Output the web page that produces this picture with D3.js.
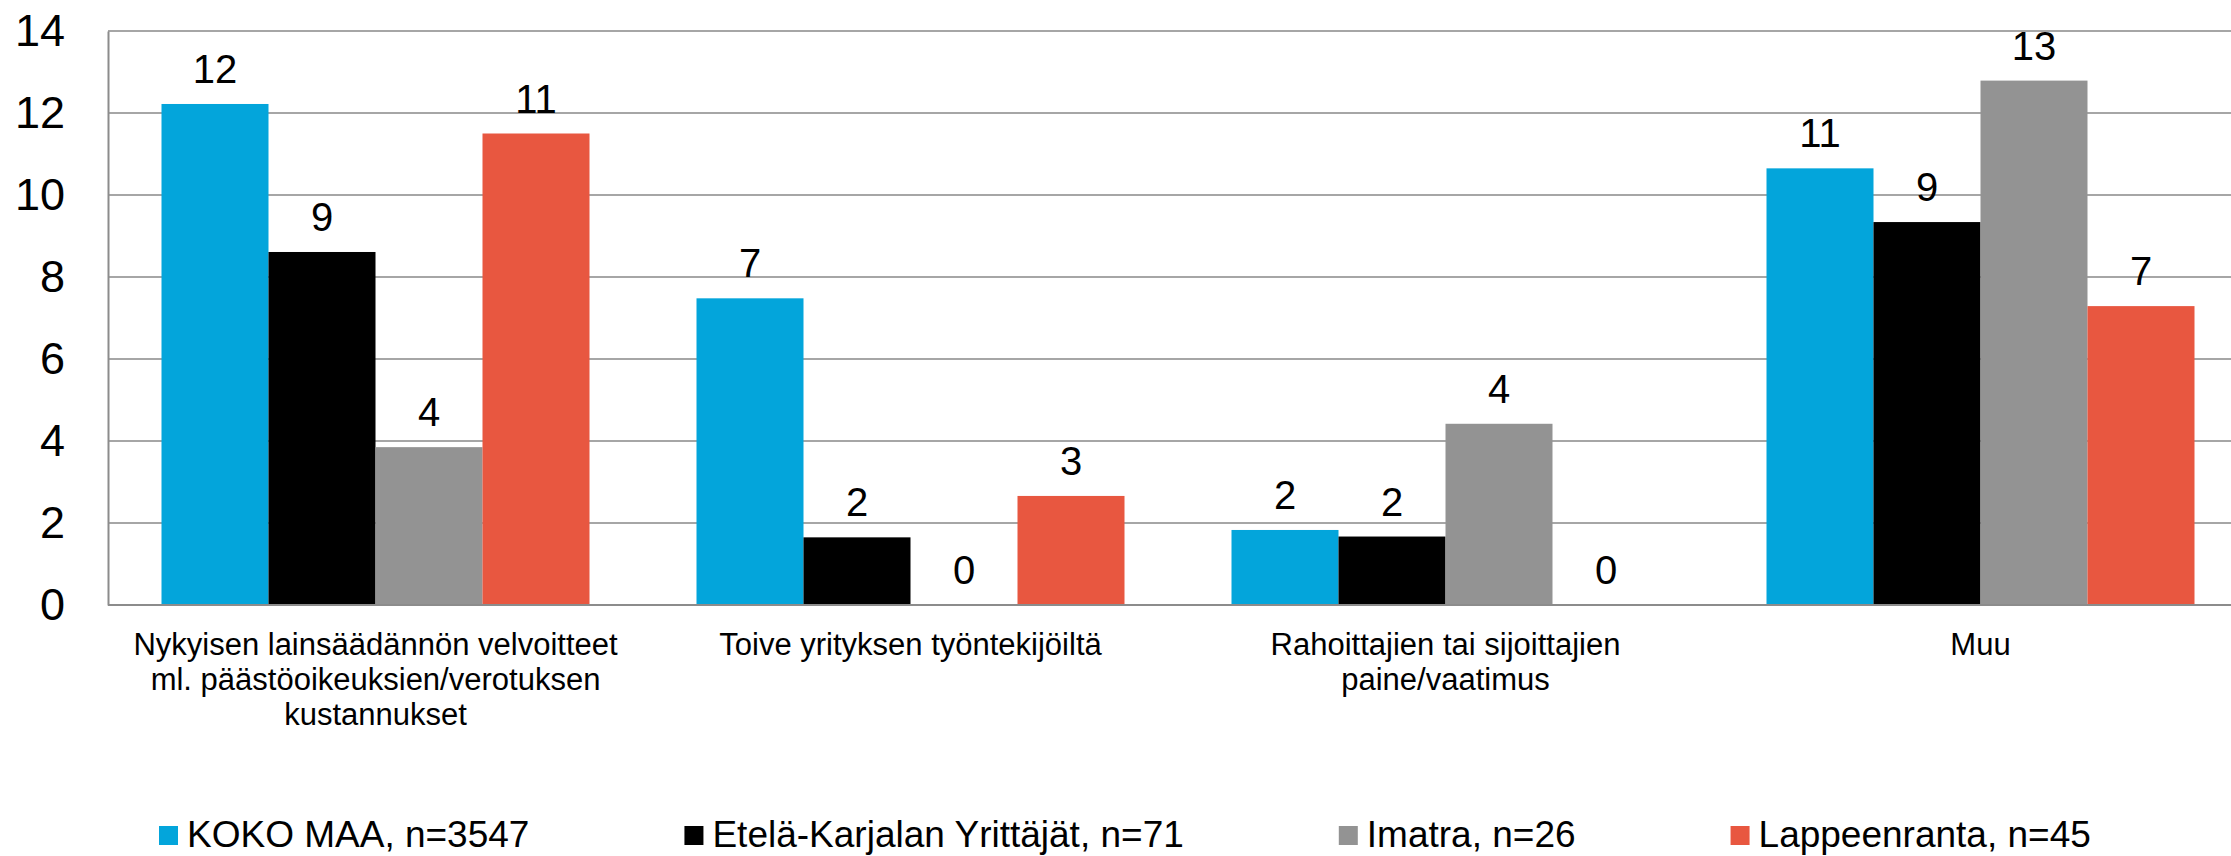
<!DOCTYPE html>
<html>
<head>
<meta charset="utf-8">
<script src="https://cdn.jsdelivr.net/npm/d3@7"></script>
<style>
  body { margin: 0; background: #fff; }
  svg { display: block; font-family: "Liberation Sans", Arial, sans-serif; }
</style>
</head>
<body>
<div id="vis"></div>
<script>
// ---------- DATA ----------
const categories = [
  ["Nykyisen lainsäädännön velvoitteet", "ml. päästöoikeuksien/verotuksen", "kustannukset"],
  ["Toive yrityksen työntekijöiltä"],
  ["Rahoittajien tai sijoittajien", "paine/vaatimus"],
  ["Muu"]
];
const seriesNames = ["KOKO MAA, n=3547", "Etelä-Karjalan Yrittäjät, n=71", "Imatra, n=26", "Lappeenranta, n=45"];
const kokoMaa = [12.22, 7.48, 1.83, 10.65];
const eteläKarjala = [8.61, 1.65, 1.67, 9.34];
const imatra = [3.85, 0, 4.42, 12.79];
const lappeenranta = [11.5, 2.66, 0, 7.29];
// labels shown above bars
const kokoMaaLabels = [12, 7, 2, 11];
const eteläKarjalaLabels = [9, 2, 2, 9];
const imatraLabels = [4, 0, 4, 13];
const lappeenrantaLabels = [11, 3, 0, 7];
const yTicks = [0, 2, 4, 6, 8, 10, 12, 14];

const COLORS = ["#03a5db", "#000000", "#939393", "#e85740"];

// ---------- FRAME ----------
const FRAME_WIDTH = 2231;
const FRAME_HEIGHT = 856;
const MARGINS = { left: 108, top: 31 };
const VIS_WIDTH = 2140;
const VIS_HEIGHT = 574;

const svg = d3.select("#vis")
  .append("svg")
  .attr("width", FRAME_WIDTH)
  .attr("height", FRAME_HEIGHT);

const series = [kokoMaa, eteläKarjala, imatra, lappeenranta];
const labels = [kokoMaaLabels, eteläKarjalaLabels, imatraLabels, lappeenrantaLabels];

const x0 = d3.scaleBand()
  .domain(d3.range(categories.length))
  .range([MARGINS.left, MARGINS.left + VIS_WIDTH])
  .paddingInner(0.2)
  .paddingOuter(0.1);

const x1 = d3.scaleBand()
  .domain(d3.range(series.length))
  .range([0, x0.bandwidth()]);

const y = d3.scaleLinear()
  .domain([0, 14])
  .range([MARGINS.top + VIS_HEIGHT, MARGINS.top]);

// gridlines
svg.append("g")
  .selectAll("line")
  .data(yTicks.filter(d => d > 0))
  .enter()
  .append("line")
  .attr("x1", MARGINS.left)
  .attr("x2", MARGINS.left + VIS_WIDTH)
  .attr("y1", d => y(d))
  .attr("y2", d => y(d))
  .attr("stroke", "#a6a6a6")
  .attr("stroke-width", 2);

// y axis
const yAxis = svg.append("g")
  .attr("transform", `translate(${MARGINS.left},0)`)
  .call(d3.axisLeft(y).tickValues(yTicks).tickSize(0).tickPadding(43));
yAxis.select(".domain").attr("stroke", "#8c8c8c").attr("stroke-width", 2);
yAxis.selectAll("text")
  .attr("font-size", 45)
  .attr("font-family", "Liberation Sans, Arial, sans-serif")
  .attr("fill", "#000");

// bars
const groups = svg.append("g")
  .selectAll("g")
  .data(categories.map((c, i) => i))
  .enter()
  .append("g")
  .attr("transform", i => `translate(${x0(i)},0)`);

groups.selectAll("rect")
  .data(i => series.map((s, j) => ({ j, v: s[i], label: labels[j][i] })))
  .enter()
  .append("rect")
  .attr("x", d => x1(d.j))
  .attr("width", x1.bandwidth())
  .attr("y", d => y(d.v))
  .attr("height", d => y(0) - y(d.v))
  .attr("fill", d => COLORS[d.j]);

groups.selectAll("text")
  .data(i => series.map((s, j) => ({ j, v: s[i], label: labels[j][i] })))
  .enter()
  .append("text")
  .attr("x", d => x1(d.j) + x1.bandwidth() / 2)
  .attr("y", d => y(d.v) - 21)
  .attr("text-anchor", "middle")
  .attr("font-size", 40)
  .text(d => d.label);

// x axis line
svg.append("line")
  .attr("x1", MARGINS.left)
  .attr("x2", MARGINS.left + VIS_WIDTH)
  .attr("y1", y(0))
  .attr("y2", y(0))
  .attr("stroke", "#8c8c8c")
  .attr("stroke-width", 2);

// category labels
const catText = svg.append("g")
  .selectAll("text")
  .data(categories)
  .enter()
  .append("text")
  .attr("x", (d, i) => x0(i) + x0.bandwidth() / 2)
  .attr("y", 655)
  .attr("text-anchor", "middle")
  .attr("font-size", 31);
catText.selectAll("tspan")
  .data(d => d)
  .enter()
  .append("tspan")
  .attr("x", function () { return d3.select(this.parentNode).attr("x"); })
  .attr("dy", (d, i) => i === 0 ? 0 : 35)
  .text(d => d);

// legend
const legend = svg.append("g");
let lx = 159;
seriesNames.forEach((name, i) => {
  legend.append("rect")
    .attr("x", lx)
    .attr("y", 826)
    .attr("width", 19)
    .attr("height", 19)
    .attr("fill", COLORS[i]);
  const t = legend.append("text")
    .attr("x", lx + 28)
    .attr("y", 847)
    .attr("font-size", 37)
    .text(name);
  lx = lx + 28 + t.node().getComputedTextLength() + 155;
});
</script>
</body>
</html>
